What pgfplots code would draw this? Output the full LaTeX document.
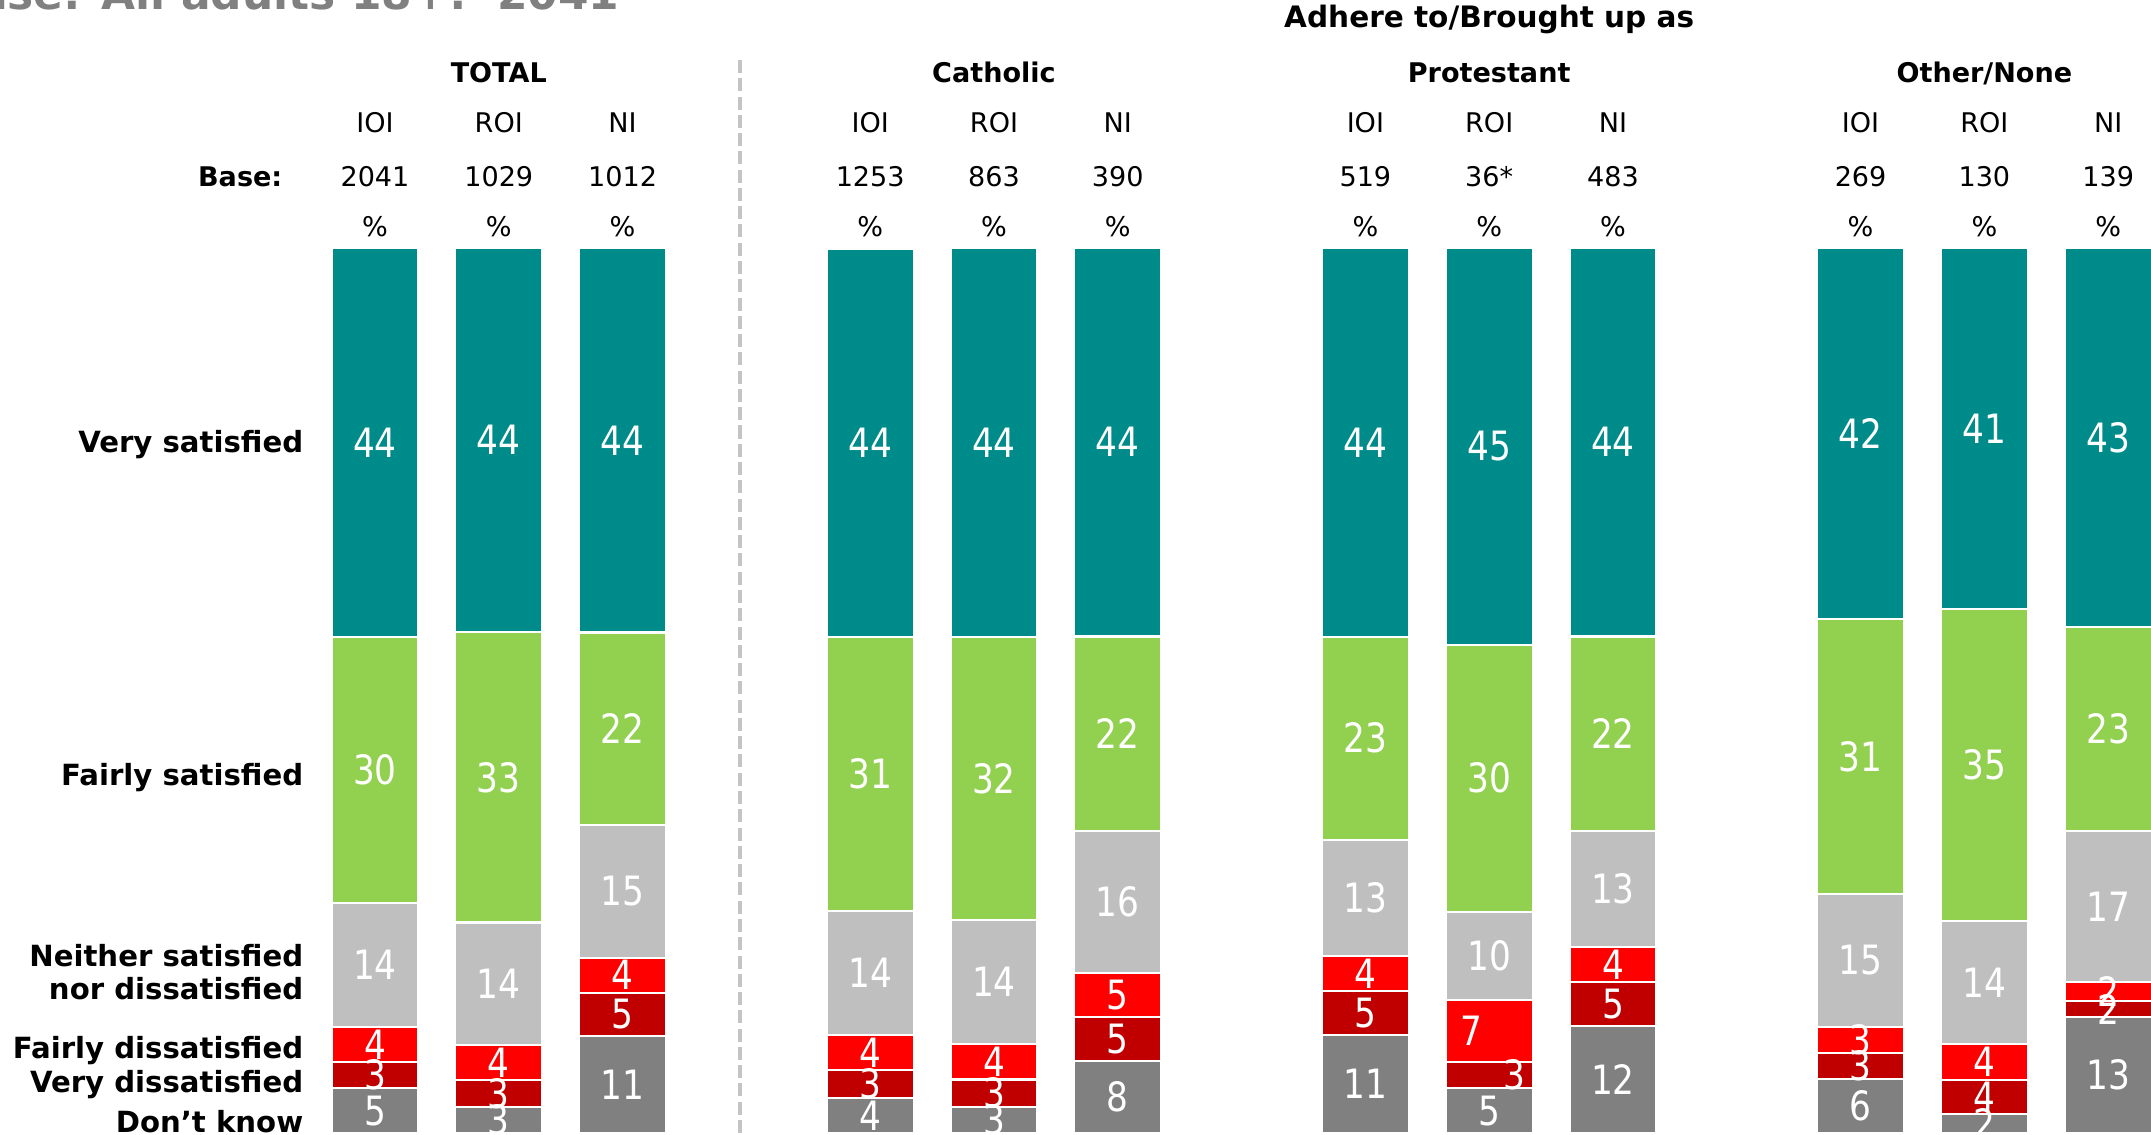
\documentclass[border=0pt]{standalone}
\usepackage{pgfplots}
\pgfplotsset{compat=1.18}
\usepackage{pgfplotstable}
\usepackage{fontspec}
\setmainfont{DejaVu Sans}

\definecolor{cVS}{RGB}{0,139,139}
\definecolor{cFS}{RGB}{146,208,80}
\definecolor{cNE}{RGB}{191,191,191}
\definecolor{cFD}{RGB}{255,0,0}
\definecolor{cVD}{RGB}{192,0,0}
\definecolor{cDK}{RGB}{128,128,128}
\definecolor{sepgray}{RGB}{196,196,196}

\newcommand\numfont{\fontsize{11.5}{12}\selectfont}
\newcommand\hdrfont{\fontsize{7.7}{9}\selectfont}
\newcommand\lblfont{\fontsize{8.3}{9.5}\selectfont\bfseries}

% segment sizes (geometry) and printed labels
\pgfplotstableread{
x  dk    dkL vd   vdL fd   fdL ne    neL fs    fsL vs    vsL
0  5.05  5   3.0  3   3.95 4   14.0  14  30.08 30  43.9  44
1  2.97  3   3.01 3   3.95 4   13.86 14  32.8  33  43.44 44
2  10.96 11  4.9  5   3.95 4   15.04 15  21.7  22  43.44 44
4  4.0   4   3.1  3   4.0  4   14.0  14  30.9  31  43.9  44
5  2.95  3   3.1  3   4.0  4   14.0  14  32.0  32  43.9  44
6  8.1   8   5.0  5   5.0  5   16.0  16  22.0  22  43.9  44
8  11.07 11  4.97 5   3.95 4   13.16 13  22.94 23  43.9  44
9  5.05  5   3.0  3   6.97 7   9.98  10  30.17 30  44.83 45
10 12.09 12  4.94 5   4.02 4   13.04 13  22.01 22  43.9  44
12 6.07  6   2.94 3   3.0  3   15.0  15  31.1  31  41.89 42
13 2.1   2   3.88 4   4.03 4   13.97 14  35.2  35  40.8  41
14 13.07 13  1.88 2   2.08 2   17.1  17  23.05 23  42.8  43
}\satdata

\newcommand\col[3]{%
  \node[hdr] at (axis cs:#1,112.99) {#2};
  \node[hdr] at (axis cs:#1,106.89) {#3};
  \node[hdr] at (axis cs:#1,101.24) {\%};}

\begin{document}
\begin{tikzpicture}[
  hdr/.style={anchor=base,font=\hdrfont,inner sep=0pt},
  grp/.style={anchor=base,font=\hdrfont\bfseries,inner sep=0pt},
  lbl/.style={anchor=base east,font=\lblfont,inner sep=0pt},
]
\begin{axis}[
  scale only axis,
  width=21.51cm,height=11.35cm,
  xmin=-3.029,xmax=14.346,
  ymin=-0.226,ymax=128.02,
  hide axis,clip=false,
  ybar stacked,bar width=0.703,
  point meta=explicit symbolic,
  visualization depends on={rawx \as \segx},
  nodes near coords={\scalebox{0.85}[1]{\pgfplotspointmeta}},
  every node near coord/.append style={anchor=center,text=white,font=\numfont,inner sep=0pt},
]
\addplot[fill=cDK,draw=white,line width=0.6pt] table[x=x,y=dk,meta=dkL]{\satdata};
% the two labels in the Protestant ROI bar sit off centre
\addplot[fill=cVD,draw=white,line width=0.6pt,
  every node near coord/.append style={xshift={(\segx==9)*0.2476cm}}]
  table[x=x,y=vd,meta=vdL]{\satdata};
\addplot[fill=cFD,draw=white,line width=0.6pt,
  every node near coord/.append style={xshift={(\segx==9)*(-0.1733cm)}}]
  table[x=x,y=fd,meta=fdL]{\satdata};
\addplot[fill=cNE,draw=white,line width=0.6pt] table[x=x,y=ne,meta=neL]{\satdata};
\addplot[fill=cFS,draw=white,line width=0.6pt] table[x=x,y=fs,meta=fsL]{\satdata};
\addplot[fill=cVS,draw=white,line width=0.6pt] table[x=x,y=vs,meta=vsL]{\satdata};

% separator between TOTAL and the religion groups
\draw[sepgray,line width=1.2pt,dash pattern=on 3.7pt off 1.5pt]
  (axis cs:2.948,0) -- (axis cs:2.948,121.5);

% title (cut at the top edge)
\node[anchor=base east,inner sep=0pt,text=cDK,font=\fontsize{12.5}{14}\selectfont\bfseries]
  at (axis cs:1.98,126.89) {Base: All adults 18+:\ \ 2041};

\node[grp,font=\fontsize{8.4}{10}\selectfont\bfseries] at (axis cs:9,124.86) {Adhere to/Brought up as};
\node[grp] at (axis cs:1,118.64) {TOTAL};
\node[grp] at (axis cs:5,118.64) {Catholic};
\node[grp] at (axis cs:9,118.64) {Protestant};
\node[grp] at (axis cs:13,118.64) {Other/None};

\node[anchor=base east,inner sep=0pt,font=\hdrfont\bfseries] at (axis cs:-0.743,106.89) {Base:};

\col{0}{IOI}{2041}
\col{1}{ROI}{1029}
\col{2}{NI}{1012}
\col{4}{IOI}{1253}
\col{5}{ROI}{863}
\col{6}{NI}{390}
\col{8}{IOI}{519}
\col{9}{ROI}{36*}
\col{10}{NI}{483}
\col{12}{IOI}{269}
\col{13}{ROI}{130}
\col{14}{NI}{139}

\node[lbl] at (axis cs:-0.574,76.84) {Very satisfied};
\node[lbl] at (axis cs:-0.574,39.32) {Fairly satisfied};
\node[lbl] at (axis cs:-0.574,18.76) {Neither satisfied};
\node[lbl] at (axis cs:-0.574,15.03) {nor dissatisfied};
\node[lbl] at (axis cs:-0.574,8.47) {Fairly dissatisfied};
\node[lbl] at (axis cs:-0.574,4.52) {Very dissatisfied};
\node[lbl] at (axis cs:-0.574,0.11) {Don’t know};
\end{axis}
\pgfresetboundingbox
\path[use as bounding box] (current axis.south west) rectangle (current axis.north east);
\end{tikzpicture}
\end{document}
